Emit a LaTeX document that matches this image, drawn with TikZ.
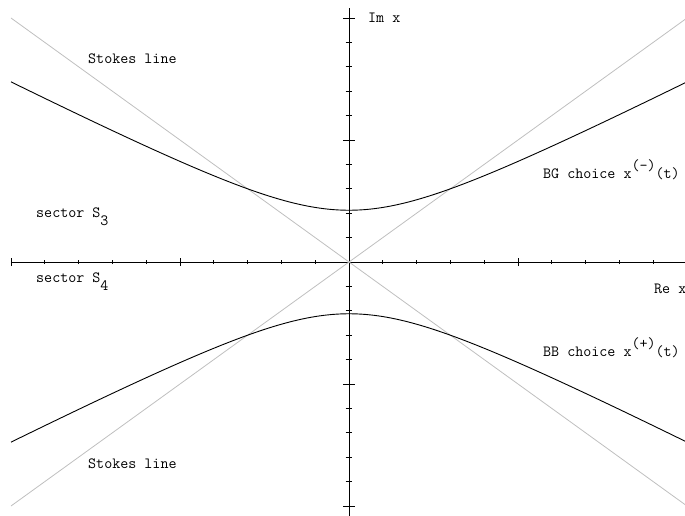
\documentclass[tikz,border=0pt]{standalone}
\usetikzlibrary{calc,positioning}

\begin{document}
\begin{tikzpicture}[x=33.8pt, y=24.4pt,
  lab/.style={anchor=base west, inner sep=0pt, font=\ttfamily\fontsize{15.6}{18}\selectfont},
  asse/.style={draw=black, line width=0.8pt},
  stokes/.style={draw=black!25, line width=0.8pt},
  ramo/.style={draw=black, line width=0.9pt}]

\useasboundingbox (-349pt,-253pt) rectangle (336pt,262pt);

% Assi
\coordinate (O) at (0,0);
\draw[asse] (-10,0) -- (10.2,0);
\draw[asse] (0,-10.6) -- (0,10.43);
\foreach \i in {-9,-8,-7,-6,-4,-3,-2,-1,1,2,3,4,6,7,8,9} {
  \draw[asse] (\i,0) ++(0,-2pt) -- ++(0,4pt);
  \draw[asse] (0,\i) ++(-3.3pt,0) -- ++(6.6pt,0);
}
\foreach \i in {-10,-5,5,10} {
  \draw[asse] (\i,0) ++(0,-4pt) -- ++(0,8pt);
  \draw[asse] (0,\i) ++(-6pt,0) -- ++(12pt,0);
}

% Linee di Stokes
\coordinate (nw) at (-10,10);
\coordinate (se) at (10,-10);
\coordinate (sw) at (-10,-10);
\coordinate (ne) at (10,10);
\draw[stokes] (nw) -- (O) -- (se);
\draw[stokes] (sw) -- (O) -- (ne);

% Rami
\draw[ramo] plot[domain=-10:10, samples=81, smooth] (\x,{sqrt(4.5+0.5*\x*\x)});
\draw[ramo] plot[domain=-10:10, samples=81, smooth] (\x,{-sqrt(4.5+0.5*\x*\x)});

% Etichette
\node[lab] (imx) at (19pt,240pt) {Im x};
\node[lab] (rex) at (305pt,-31pt) {Re x};
\node[lab] (stokesA) at (-261pt,199pt) {Stokes line};
\node[lab] (stokesB) at (-261pt,-206pt) {Stokes line};
\node[lab] (sectorA) at (-313pt,45pt) {sector S\raisebox{-8pt}{3}};
\node[lab] (sectorB) at (-313pt,-20pt) {sector S\raisebox{-8pt}{4}};
\node[lab] (bg) at (194pt,84pt) {BG choice x\raisebox{7.5pt}{(-)}(t)};
\node[lab] (bb) at (194pt,-94pt) {BB choice x\raisebox{7.5pt}{(+)}(t)};

\end{tikzpicture}
\end{document}
